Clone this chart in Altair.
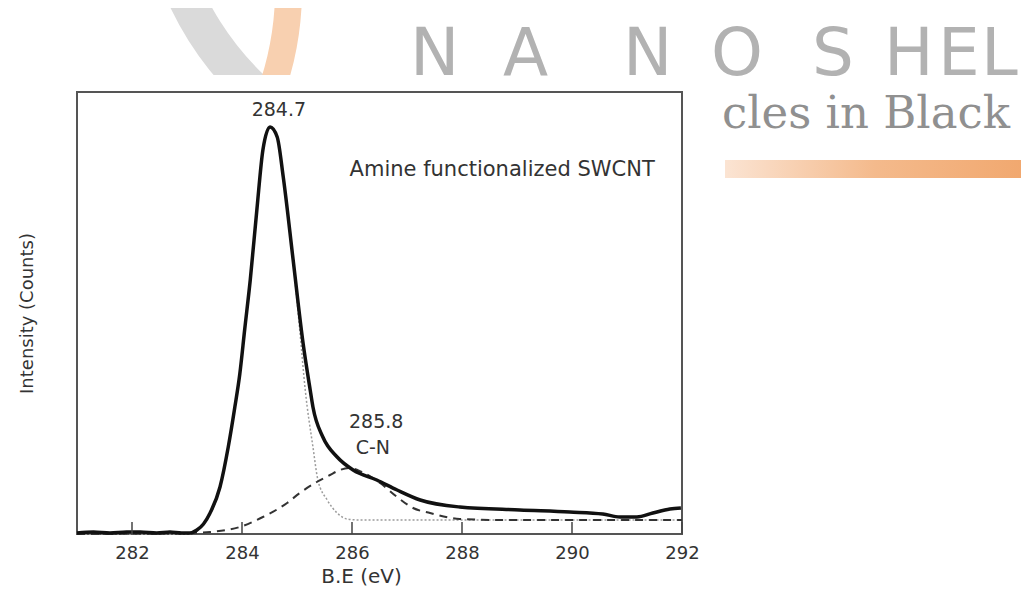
import altair as alt
import pandas as pd

# ---------------- data ----------------
# measured spectrum (solid line)
solid_x = [281.00, 281.30, 281.60, 281.90, 282.15, 282.45, 282.69, 282.90, 283.05, 283.18,
           283.30, 283.42, 283.60, 283.75, 283.87, 283.96, 284.05, 284.15, 284.27, 284.38,
           284.51, 284.64, 284.75, 284.93, 285.11, 285.24, 285.29, 285.47, 285.73, 286.02,
           286.45, 286.82, 287.24, 287.96, 289.05, 289.96, 290.56, 290.87, 291.18, 291.47,
           291.78, 291.98]
solid_y = [1, 2, 1, 2, 2, 1, 2, 1, 1, 4,
           10, 21, 47, 87, 127, 160, 205, 254, 324, 384,
           407, 397, 357, 274, 191, 144, 127, 97, 77, 64,
           54, 44, 34, 27, 24, 22, 20, 17, 17, 21,
           25, 26]

# fitted C-C component (grey dotted)
dot_x = [281.00, 283.05, 283.18, 283.42, 283.60, 283.75, 283.87, 283.96, 284.05, 284.15,
         284.27, 284.38, 284.51, 284.64, 284.75, 284.93, 285.05, 285.15, 285.29, 285.38,
         285.55, 285.73, 285.91, 286.15, 288.00, 290.00, 292.00]
dot_y = [0, 0, 3, 20, 46, 86, 126, 159, 204, 253,
         323, 383, 406, 396, 356, 272, 204, 144, 87, 54,
         34, 21, 15, 14, 14, 14, 14]

# fitted C-N component (dashed)
dash_x = [281.00, 283.05, 283.42, 283.96, 284.38, 284.82, 285.05, 285.36, 285.60, 285.78,
          285.96, 286.18, 286.51, 286.82, 287.11, 287.42, 287.96, 288.69, 290.00, 292.00]
dash_y = [0, 1, 2, 7, 17, 31, 41, 52, 59, 64,
          66, 62, 51, 37, 26, 21, 15, 14, 14, 14]

x_ticks = [282, 284, 286, 288, 290, 292]

peak_text = ["284.7", "285.8", "C-N"]
peak_x = [284.67, 286.44, 286.38]
peak_y = [424, 112, 86]

sample_text = ["Amine functionalized SWCNT"]
sample_x = [288.73]
sample_y = [364]

watermark_letters = ["N", "A", "N", "O", "S", "H", "E", "L"]
watermark_left = [410, 503, 623, 711, 812, 884, 938, 981]   # page pixels (decoration)

# ---------------- chart ----------------
W, H = 605, 442
FONT = "DejaVu Sans"
TXT = "#333333"

xscale = alt.Scale(domain=[281, 292], nice=False, zero=False)
yscale = alt.Scale(domain=[0, 442], nice=False, zero=False)

xaxis = alt.Axis(title="B.E (eV)", values=x_ticks, format="d",
                 labelFont=FONT, labelFontSize=18, labelColor=TXT, labelPadding=10,
                 labelFlush=False, ticks=False, domain=False, grid=False,
                 titleFont=FONT, titleFontSize=20, titleFontWeight="normal", titleColor=TXT,
                 titleX=284, titleY=42, titleBaseline="middle", titleAlign="center", zindex=1)
yaxis = alt.Axis(title="Intensity (Counts)", labels=False, ticks=False, domain=False, grid=False,
                 titleFont=FONT, titleFontSize=18, titleFontWeight="normal", titleColor=TXT,
                 titleAngle=270, titleX=-50, titleY=221, titleBaseline="middle",
                 titleAlign="center", zindex=1)

X = alt.X("be:Q", scale=xscale, axis=xaxis)
Y = alt.Y("counts:Q", scale=yscale, axis=yaxis)

df_solid = pd.DataFrame({"be": solid_x, "counts": solid_y})
df_dot = pd.DataFrame({"be": dot_x, "counts": dot_y})
df_dash = pd.DataFrame({"be": dash_x, "counts": dash_y})
df_ticks = pd.DataFrame({"be": x_ticks})
df_peak = pd.DataFrame({"be": peak_x, "counts": peak_y, "label": peak_text})
df_sample = pd.DataFrame({"be": sample_x, "counts": sample_y, "label": sample_text})
one = pd.DataFrame({"k": [0]})

OX, OY = 77, 92  # page position of plot origin (for decoration placement)

# watermark decoration
gray_arc = alt.Chart(one).mark_arc(color="#dadada", radius=322, radius2=285,
                                   theta=3.7, theta2=4.6).encode(
    x=alt.value(461 - OX), y=alt.value(-131 - OY))
orange_arc = alt.Chart(one).mark_arc(color="#f8d0b0", radius=316, radius2=289,
                                     theta=1.4, theta2=2.2).encode(
    x=alt.value(-14 - OX), y=alt.value(-10 - OY))
white_box = alt.Chart(one).mark_rect(color="white").encode(
    x=alt.value(0 - OX), x2=alt.value(695 - OX), y=alt.value(75 - OY), y2=alt.value(600 - OY))

letters = []
for ch, lx in zip(watermark_letters, watermark_left):
    letters.append(
        alt.Chart(one).mark_text(text=ch, font="DejaVu Sans", fontSize=66,
                                 color="#b2b2b2", align="left", baseline="alphabetic").encode(
            x=alt.value(lx - OX), y=alt.value(75 - OY)))

cles = alt.Chart(one).mark_text(text="cles in Black", font="DejaVu Serif", fontSize=45,
                                color="#909090", align="left", baseline="alphabetic").encode(
    x=alt.value(722 - OX), y=alt.value(128 - OY))

bar = alt.Chart(one).mark_rect(
    color=alt.Gradient(gradient="linear",
                       stops=[alt.GradientStop(color="#fbe4d3", offset=0),
                              alt.GradientStop(color="#f4ba8c", offset=0.5),
                              alt.GradientStop(color="#f1a86f", offset=1)],
                       x1=0, x2=1, y1=0, y2=0)).encode(
    x=alt.value(725 - OX), x2=alt.value(1024 - OX), y=alt.value(160 - OY), y2=alt.value(178 - OY))

frame = alt.Chart(one).mark_rect(filled=False, stroke="#555555", strokeWidth=2).encode(
    x=alt.value(0), x2=alt.value(W), y=alt.value(0), y2=alt.value(H))

dotted = alt.Chart(df_dot).mark_line(color="#9c9c9c", strokeWidth=1.5, strokeDash=[2, 2],
                                     interpolate="monotone").encode(x=X, y=Y)
dashed = alt.Chart(df_dash).mark_line(color="#333333", strokeWidth=2, strokeDash=[8, 6],
                                      interpolate="monotone").encode(x=X, y=Y)
solid = alt.Chart(df_solid).mark_line(color="#111111", strokeWidth=3.5,
                                      interpolate="monotone").encode(x=X, y=Y)

ticks = alt.Chart(df_ticks).mark_rule(color="#444444", strokeWidth=1.5).encode(
    x=X, y=alt.value(H), y2=alt.value(H - 12))

peaks = alt.Chart(df_peak).mark_text(font=FONT, fontSize=19, color=TXT, align="center",
                                     baseline="middle").encode(x=X, y=Y, text="label:N")
sample = alt.Chart(df_sample).mark_text(font=FONT, fontSize=21, color=TXT, align="center",
                                        baseline="middle").encode(x=X, y=Y, text="label:N")

chart = alt.layer(
    gray_arc, orange_arc, white_box, *letters, cles, bar,
    frame, dotted, dashed, solid, ticks, peaks, sample
).properties(
    width=W, height=H,
    autosize=alt.AutoSizeParams(type="none"),
    padding={"left": 69, "top": 84, "right": 339, "bottom": 53},
    background="white",
).configure_view(strokeWidth=0)

chart.save("out.html", embed_options={"renderer": "svg", "actions": False})
